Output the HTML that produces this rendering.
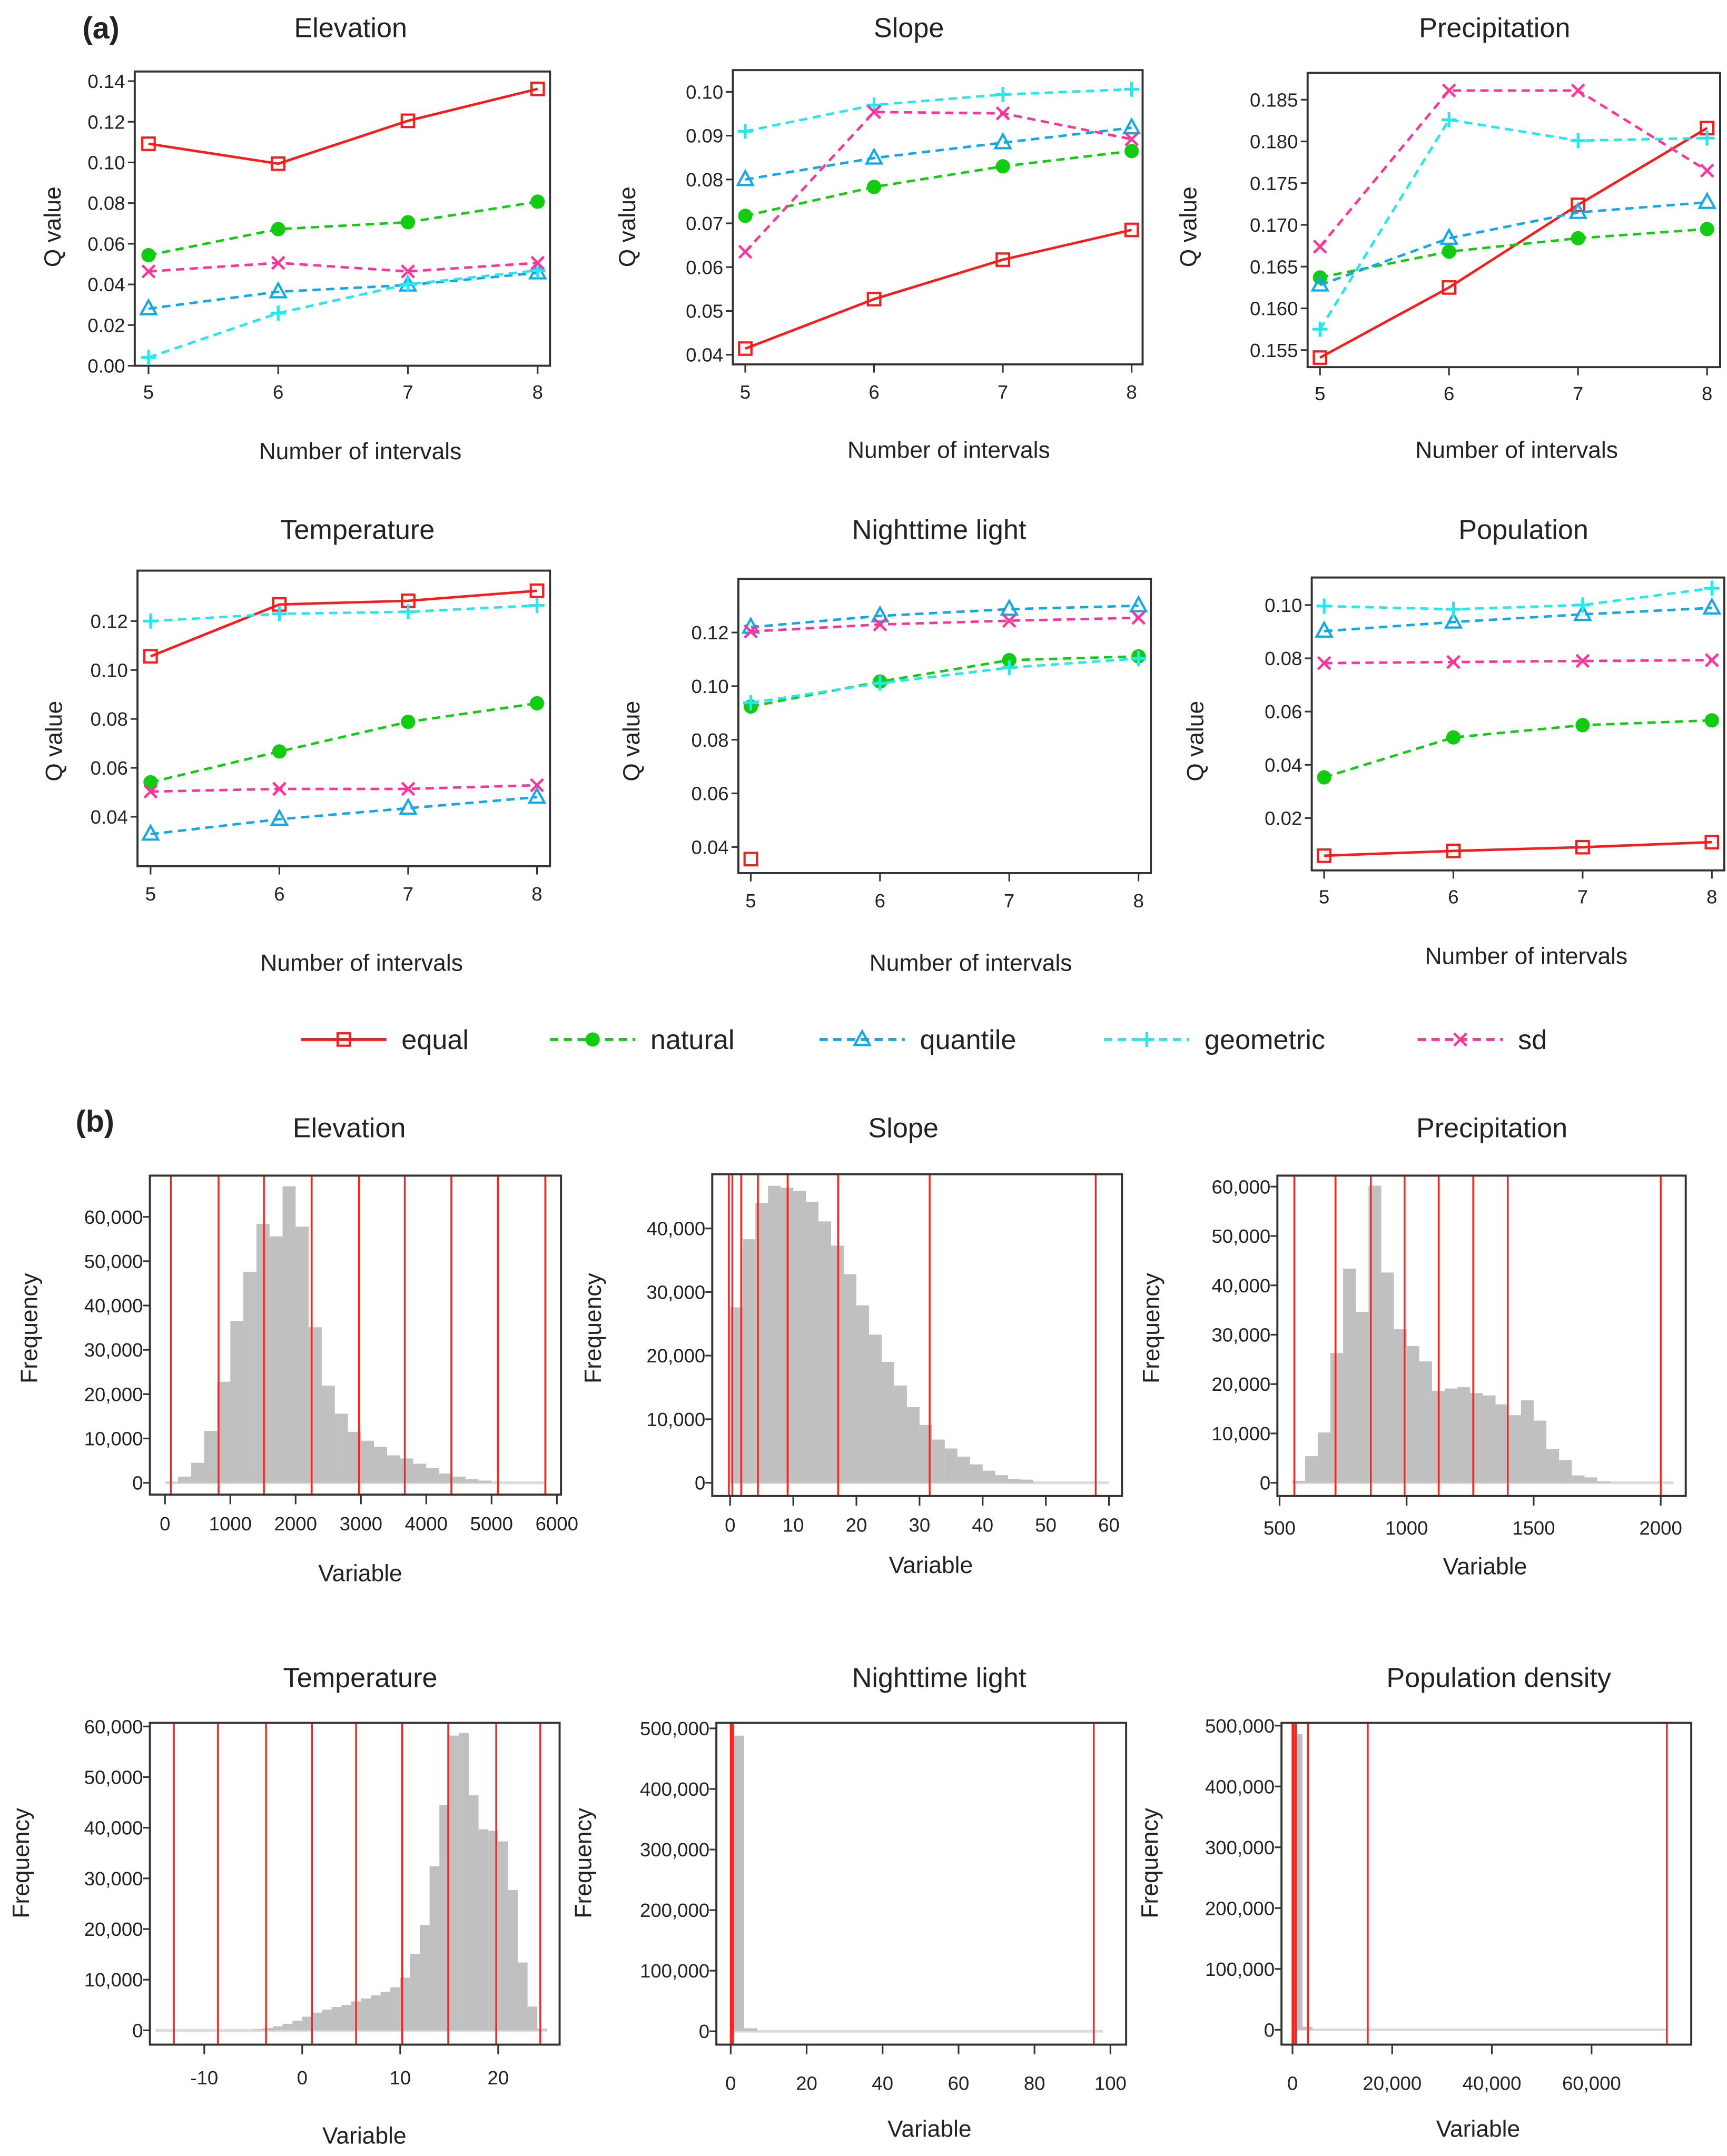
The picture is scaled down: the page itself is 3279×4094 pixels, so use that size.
<!DOCTYPE html>
<html><head><meta charset="utf-8"><style>
html,body{margin:0;padding:0;background:#fff;}
svg{display:block;}
text{font-family:"Liberation Sans",sans-serif;fill:#222;}
</style></head><body>
<svg id="fig" xmlns="http://www.w3.org/2000/svg" width="3279" height="4094" viewBox="0 0 1256 1568" preserveAspectRatio="none">
<rect x="0" y="0" width="1256" height="1568" fill="#fff"/>
<text x="60" y="28" font-size="22" font-weight="bold">(a)</text>
<text x="55" y="823" font-size="22" font-weight="bold">(b)</text>
</svg>
<script>
// ---------- line chart data (a) ----------
const intervals = [5, 6, 7, 8];
const elevationEqual = [0.1092, 0.0994, 0.1205, 0.1362];
const elevationNatural = [0.0544, 0.0672, 0.0706, 0.0807];
const elevationQuantile = [0.0281, 0.0364, 0.0397, 0.0457];
const elevationGeometric = [0.0041, 0.0259, 0.0401, 0.0469];
const elevationSd = [0.0464, 0.0506, 0.0464, 0.0506];
const slopeEqual = [0.0414, 0.0527, 0.0617, 0.0685];
const slopeNatural = [0.0717, 0.0783, 0.0830, 0.0865];
const slopeQuantile = [0.0800, 0.0849, 0.0884, 0.0918];
const slopeGeometric = [0.0910, 0.0970, 0.0994, 0.1006];
const slopeSd = [0.0635, 0.0954, 0.0951, 0.0892];
const precipEqual = [0.1541, 0.1625, 0.1724, 0.1816];
const precipNatural = [0.1637, 0.1668, 0.1684, 0.1695];
const precipQuantile = [0.1628, 0.1684, 0.1715, 0.1727];
const precipGeometric = [0.1575, 0.1826, 0.1801, 0.1804];
const precipSd = [0.1674, 0.1861, 0.1861, 0.1765];
const tempEqual = [0.1056, 0.1268, 0.1283, 0.1324];
const tempNatural = [0.0541, 0.0667, 0.0788, 0.0864];
const tempQuantile = [0.0329, 0.0390, 0.0435, 0.0480];
const tempGeometric = [0.1200, 0.1230, 0.1238, 0.1264];
const tempSd = [0.0503, 0.0514, 0.0514, 0.0529];
const lightEqual = [0.0355, null, null, null];
const lightNatural = [0.0924, 0.1017, 0.1097, 0.1111];
const lightQuantile = [0.1220, 0.1262, 0.1287, 0.1300];
const lightGeometric = [0.0938, 0.1011, 0.1069, 0.1103];
const lightSd = [0.1204, 0.1230, 0.1244, 0.1255];
const popEqual = [0.0059, 0.0077, 0.0091, 0.0110];
const popNatural = [0.0353, 0.0503, 0.0549, 0.0567];
const popQuantile = [0.0902, 0.0936, 0.0965, 0.0989];
const popGeometric = [0.0996, 0.0984, 0.1000, 0.1063];
const popSd = [0.0782, 0.0786, 0.0790, 0.0793];
const elevationYTicks = [0.00, 0.02, 0.04, 0.06, 0.08, 0.10, 0.12, 0.14];
const slopeYTicks = [0.04, 0.05, 0.06, 0.07, 0.08, 0.09, 0.10];
const precipYTicks = [0.155, 0.160, 0.165, 0.170, 0.175, 0.180, 0.185];
const tempYTicks = [0.04, 0.06, 0.08, 0.10, 0.12];
const lightYTicks = [0.04, 0.06, 0.08, 0.10, 0.12];
const popYTicks = [0.02, 0.04, 0.06, 0.08, 0.10];
const legendLabels = ["equal", "natural", "quantile", "geometric", "sd"];

// ---------- histogram data (b) ----------
const elevCounts = [100,1400,4500,11700,22800,36500,47600,58400,55600,66900,57800,35100,21900,15600,11500,9500,8100,6200,5500,4300,3300,2100,1400,800,500];
const elevBreaks = [89, 820, 1515, 2245, 2970, 3671, 4384, 5097, 5822];
const elevXTicks = [0,1000,2000,3000,4000,5000,6000];
const elevYTicks = [0,10000,20000,30000,40000,50000,60000];
const slopeCounts = [27600,38300,44000,46700,46400,45900,44200,41100,37300,32800,27900,23300,19000,15300,11900,9100,6800,5400,4100,2900,1900,1200,600,500];
const slopeBreaks = [-0.2, 0.35, 1.75, 4.4, 9.1, 17.1, 31.6, 57.9];
const slopeXTicks = [0,10,20,30,40,50,60];
const slopeYTicksH = [0,10000,20000,30000,40000];
const precipCounts = [400,5400,10200,26300,43400,34600,60200,42600,31100,27700,24600,18600,19100,19400,18200,17700,15900,13700,16700,12600,6900,4600,1500,1100,300];
const precipBreaks = [558, 720, 859, 992, 1126, 1262, 1398, 2000];
const precipXTicks = [500,1000,1500,2000];
const precipYTicksH = [0,10000,20000,30000,40000,50000,60000];
const tempCounts = [200,440,800,1300,1900,2700,3500,4100,4600,5000,5700,6300,6900,7600,8500,10400,15100,20800,32400,44500,58200,58700,46400,39700,39400,37300,27700,13400,4700,300];
const tempBreaks = [-13.1, -8.6, -3.7, 1.0, 5.5, 10.2, 14.9, 19.8, 24.3];
const tempXTicks = [-10,0,10,20];
const tempYTicksH = [0,10000,20000,30000,40000,50000,60000];
const lightCounts = [488000, 5000];
const lightBreaks = [0, 0.3, 0.6, 95.6];
const lightXTicks = [0,20,40,60,80,100];
const lightYTicksH = [0,100000,200000,300000,400000,500000];
const popCounts = [486000, 5000];
const popBreaks = [0, 300, 700, 3100, 15100, 75100];
const popXTicks = [0,20000,40000,60000];
const popYTicksH = [0,100000,200000,300000,400000,500000];

const NS = "http://www.w3.org/2000/svg";
const svg = document.getElementById("fig");
function mk(tag, attrs, parent) {
  const e = document.createElementNS(NS, tag);
  for (const k in attrs) e.setAttribute(k, attrs[k]);
  (parent || svg).appendChild(e);
  return e;
}
function txt(s, attrs, parent) { const e = mk("text", attrs, parent); e.textContent = s; return e; }
function lin(v0, p0, v1, p1) { return v => p0 + (v - v0) * (p1 - p0) / (v1 - v0); }

const styles = {
  equal: { color: "#ff1a1a", dash: "", marker: "square" },
  natural: { color: "#11cc11", dash: "6,4", marker: "circle" },
  quantile: { color: "#10a8e8", dash: "6,4", marker: "triangle" },
  geometric: { color: "#22e8f0", dash: "6,4", marker: "plus" },
  sd: { color: "#ff3399", dash: "6,4", marker: "cross" }
};
function marker(g, type, x, y, color) {
  let m;
  if (type === "square") m = mk("rect", { x: x - 4.5, y: y - 4.5, width: 9, height: 9, fill: "none", stroke: color, "stroke-width": 1.6 }, g);
  else if (type === "circle") m = mk("circle", { cx: x, cy: y, r: 5.2, fill: color }, g);
  else if (type === "triangle") m = mk("path", { d: `M${x},${y - 6} L${x + 5.5},${y + 4} L${x - 5.5},${y + 4} Z`, fill: "none", stroke: color, "stroke-width": 1.6 }, g);
  else if (type === "plus") m = mk("path", { d: `M${x - 5.5},${y} H${x + 5.5} M${x},${y - 5.5} V${y + 5.5}`, stroke: color, "stroke-width": 2 }, g);
  else m = mk("path", { d: `M${x - 4.5},${y - 4.5} L${x + 4.5},${y + 4.5} M${x + 4.5},${y - 4.5} L${x - 4.5},${y + 4.5}`, stroke: color, "stroke-width": 1.8 }, g);
  return m;
}

function linePanel(cfg) {
  const g = mk("g", {});
  
  
  const [x1, y1, x2, y2] = cfg.box;
  const sx = lin(5, cfg.x5, 8, cfg.x8);
  const sy = lin(cfg.yref[0], cfg.yref[1], cfg.yref[2], cfg.yref[3]);
  const t = txt(cfg.title, { x: cfg.tx, y: cfg.ty + 7, "font-size": 20, "text-anchor": "middle" }, g);
  
  
  const box = mk("rect", { x: x1, y: y1, width: x2 - x1, height: y2 - y1, fill: "none", stroke: "#333", "stroke-width": 1.5 }, g);
  
  
  cfg.yticks.forEach(v => {
    const y = sy(v);
    mk("line", { x1: x1 - 5, x2: x1, y1: y, y2: y, stroke: "#333", "stroke-width": 1.2 }, g);
    const l = txt(v.toFixed(cfg.dec), { x: x1 - 7, y: y + 5, "font-size": 14, "text-anchor": "end" }, g);
    
    
  });
  intervals.forEach(v => {
    const x = sx(v);
    mk("line", { x1: x, x2: x, y1: y2, y2: y2 + 6, stroke: "#333", "stroke-width": 1.2 }, g);
    const l = txt(String(v), { x: x, y: cfg.xty + 5, "font-size": 14, "text-anchor": "middle" }, g);
    
    
  });
  const xl = txt("Number  of intervals", { x: cfg.xlx, y: cfg.xly + 6, "font-size": 17, "text-anchor": "middle" }, g);
  
  
  const yl = txt("Q value", { x: 0, y: 0, "font-size": 17, "text-anchor": "middle", fill: "#444", transform: `translate(${cfg.qx + 6},${cfg.qy}) rotate(-90)` }, g);
  
  
  cfg.series.forEach(s => {
    const st = styles[s.key];
    const sg = mk("g", {}, g);
    
    
    let d = "", pen = false;
    s.values.forEach((v, i) => {
      if (v === null) { pen = false; return; }
      d += (pen ? "L" : "M") + sx(intervals[i]) + "," + sy(v) + " ";
      pen = true;
    });
    mk("path", { d: d, fill: "none", stroke: st.color, "stroke-width": 1.8, "stroke-dasharray": st.dash }, sg);
    s.values.forEach((v, i) => {
      if (v === null) return;
      const m = marker(sg, st.marker, sx(intervals[i]), sy(v), st.color);
      
      
    });
  });
}
function ser(e, n, q, gm, sd) {
  return [{ key: "equal", values: e }, { key: "natural", values: n }, { key: "quantile", values: q }, { key: "geometric", values: gm }, { key: "sd", values: sd }];
}

linePanel({ name: "elevation-q-chart", title: "Elevation", tx: 255, ty: 20, box: [98, 52, 400, 266], x5: 108, x8: 391, yref: [0, 266, 0.14, 59], yticks: elevationYTicks, dec: 2, xty: 285, xlx: 262, xly: 328, qx: 38, qy: 165, series: ser(elevationEqual, elevationNatural, elevationQuantile, elevationGeometric, elevationSd) });
linePanel({ name: "slope-q-chart", title: "Slope", tx: 661, ty: 20, box: [533, 51, 831, 265], x5: 542, x8: 823, yref: [0.04, 258, 0.10, 66.8], yticks: slopeYTicks, dec: 2, xty: 285, xlx: 690, xly: 327, qx: 456, qy: 165, series: ser(slopeEqual, slopeNatural, slopeQuantile, slopeGeometric, slopeSd) });
linePanel({ name: "precipitation-q-chart", title: "Precipitation", tx: 1087, ty: 20, box: [951, 53, 1251, 267], x5: 960, x8: 1241.5, yref: [0.155, 254.6, 0.185, 72.5], yticks: precipYTicks, dec: 3, xty: 286, xlx: 1103, xly: 327, qx: 864, qy: 165, series: ser(precipEqual, precipNatural, precipQuantile, precipGeometric, precipSd) });
linePanel({ name: "temperature-q-chart", title: "Temperature", tx: 260, ty: 385, box: [100, 415, 400, 630], x5: 109.5, x8: 390.5, yref: [0.04, 594, 0.12, 451.7], yticks: tempYTicks, dec: 2, xty: 650, xlx: 263, xly: 700, qx: 39, qy: 539, series: ser(tempEqual, tempNatural, tempQuantile, tempGeometric, tempSd) });
linePanel({ name: "nighttime-light-q-chart", title: "Nighttime light", tx: 683, ty: 385, box: [537, 421, 837, 635], x5: 546, x8: 828, yref: [0.04, 616, 0.12, 460], yticks: lightYTicks, dec: 2, xty: 655, xlx: 706, xly: 700, qx: 459, qy: 539, series: ser(lightEqual, lightNatural, lightQuantile, lightGeometric, lightSd) });
linePanel({ name: "population-q-chart", title: "Population", tx: 1108, ty: 385, box: [954, 420, 1254, 633], x5: 963, x8: 1245, yref: [0.02, 595, 0.10, 440], yticks: popYTicks, dec: 2, xty: 652, xlx: 1110, xly: 695, qx: 869, qy: 539, series: ser(popEqual, popNatural, popQuantile, popGeometric, popSd) });

// legend
const legX = [219, 400, 596, 803, 1031];
const lg = mk("g", {});


legendLabels.forEach((lab, i) => {
  const st = styles[lab];
  const eg = mk("g", {}, lg);
  
  
  mk("line", { x1: legX[i], x2: legX[i] + 62, y1: 756, y2: 756, stroke: st.color, "stroke-width": 2.2, "stroke-dasharray": st.dash }, eg);
  marker(eg, st.marker, legX[i] + 31, 756, st.color);
  txt(lab, { x: legX[i] + 73, y: 763, "font-size": 20 }, eg);
});

function fmt(v) { return v.toLocaleString("en-US"); }
function histPanel(cfg) {
  const g = mk("g", {});
  
  
  const [x1, y1, x2, y2] = cfg.box;
  const sx = lin(cfg.xref[0], cfg.xref[1], cfg.xref[2], cfg.xref[3]);
  const sy = lin(0, cfg.y0, cfg.ytop, cfg.ytopPx);
  const t = txt(cfg.title, { x: cfg.tx, y: cfg.ty + 7, "font-size": 20, "text-anchor": "middle" }, g);
  
  
  const bl = mk("line", { x1: sx(cfg.baseFrom), x2: sx(cfg.baseTo), y1: cfg.y0, y2: cfg.y0, stroke: "#dcdcdc", "stroke-width": 2 }, g);
  
  
  cfg.counts.forEach((c, i) => {
    const a = cfg.start + i * cfg.width, b = a + cfg.width;
    const r = mk("rect", { x: sx(a), y: sy(c), width: sx(b) - sx(a), height: cfg.y0 - sy(c), fill: "#c0c0c0" }, g);
    
    
  });
  cfg.breaks.forEach(v => {
    const l = mk("line", { x1: sx(v), x2: sx(v), y1: y1, y2: y2, stroke: "#ff2020", "stroke-width": 1.3 }, g);
    
    
  });
  const box = mk("rect", { x: x1, y: y1, width: x2 - x1, height: y2 - y1, fill: "none", stroke: "#333", "stroke-width": 1.5 }, g);
  
  
  cfg.yticks.forEach(v => {
    const y = sy(v);
    mk("line", { x1: x1 - 5, x2: x1, y1: y, y2: y, stroke: "#333", "stroke-width": 1.2 }, g);
    const l = txt(fmt(v), { x: x1 - 5, y: y + 5, "font-size": 14, "text-anchor": "end" }, g);
    
    
  });
  cfg.xticks.forEach(v => {
    const x = sx(v);
    mk("line", { x1: x, x2: x, y1: y2, y2: y2 + 7, stroke: "#333", "stroke-width": 1.2 }, g);
    const l = txt(cfg.xcomma ? fmt(v) : String(v), { x: x, y: cfg.xty + 5, "font-size": 14, "text-anchor": "middle" }, g);
    
    
  });
  const xl = txt("Variable", { x: cfg.vx, y: cfg.vy + 6, "font-size": 17, "text-anchor": "middle" }, g);
  
  
  const yl = txt("Frequency", { x: 0, y: 0, "font-size": 17, "text-anchor": "middle", fill: "#444", transform: `translate(${cfg.fx + 6},${cfg.fy}) rotate(-90)` }, g);
  
  
}

histPanel({ name: "elevation-histogram", title: "Elevation", tx: 254, ty: 820, box: [109, 855, 408, 1087], xref: [0, 120, 6000, 405], y0: 1078.4, ytop: 60000, ytopPx: 885, start: 0, width: 200, counts: elevCounts, breaks: elevBreaks, baseFrom: 0, baseTo: 5800, xticks: elevXTicks, yticks: elevYTicks, xty: 1108, vx: 262, vy: 1144, fx: 21, fy: 966, xcomma: false });
histPanel({ name: "slope-histogram", title: "Slope", tx: 657, ty: 820, box: [518, 854, 816, 1088], xref: [0, 531, 60, 806.5], y0: 1078.4, ytop: 40000, ytopPx: 893.4, start: 0, width: 2, counts: slopeCounts, breaks: slopeBreaks, baseFrom: 0, baseTo: 60, xticks: slopeXTicks, yticks: slopeYTicksH, xty: 1109, vx: 677, vy: 1138, fx: 431, fy: 966, xcomma: false });
histPanel({ name: "precipitation-histogram", title: "Precipitation", tx: 1085, ty: 820, box: [929, 855, 1226, 1088], xref: [500, 930.6, 2000, 1207.8], y0: 1078.4, ytop: 60000, ytopPx: 863, start: 550, width: 50, counts: precipCounts, breaks: precipBreaks, baseFrom: 550, baseTo: 2050, xticks: precipXTicks, yticks: precipYTicksH, xty: 1111, vx: 1080, vy: 1139, fx: 837, fy: 966, xcomma: false });
histPanel({ name: "temperature-histogram", title: "Temperature", tx: 262, ty: 1220, box: [109, 1253, 407, 1487], xref: [0, 219.8, 20, 362.3], y0: 1476.6, ytop: 60000, ytopPx: 1255.6, start: -5, width: 1, counts: tempCounts, breaks: tempBreaks, baseFrom: -15, baseTo: 25, xticks: tempXTicks, yticks: tempYTicksH, xty: 1511, vx: 265, vy: 1553, fx: 15, fy: 1355, xcomma: false });
histPanel({ name: "nighttime-light-histogram", title: "Nighttime light", tx: 683, ty: 1220, box: [521, 1253, 819, 1487], xref: [0, 531.4, 100, 807.6], y0: 1477.3, ytop: 500000, ytopPx: 1257, start: 0, width: 3.5, counts: lightCounts, breaks: lightBreaks, baseFrom: 0, baseTo: 98, xticks: lightXTicks, yticks: lightYTicksH, xty: 1515, vx: 676, vy: 1548, fx: 424, fy: 1355, xcomma: false });
histPanel({ name: "population-density-histogram", title: "Population density", tx: 1090, ty: 1220, box: [932, 1253, 1230, 1487], xref: [0, 940, 20000, 1012.5], y0: 1476.2, ytop: 500000, ytopPx: 1255, start: 0, width: 2000, counts: popCounts, breaks: popBreaks, baseFrom: 0, baseTo: 75000, xticks: popXTicks, yticks: popYTicksH, xty: 1515, vx: 1075, vy: 1548, fx: 836, fy: 1355, xcomma: true });
</script>
</body></html>
